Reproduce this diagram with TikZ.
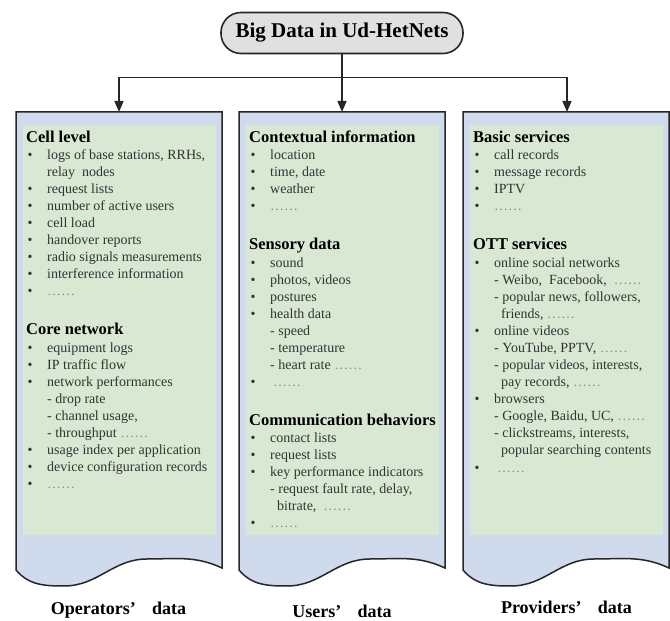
\documentclass[tikz,border=0pt]{standalone}
\usepackage{fontspec}
\setmainfont{Liberation Serif}
\usetikzlibrary{arrows.meta}
\definecolor{boxblue}{RGB}{207,218,237}
\definecolor{boxgreen}{RGB}{216,232,210}
\newcommand{\bi}{\hspace*{1.5pt}\makebox[19.5pt][l]{\textbullet}}
\newcommand{\si}{\hspace*{21pt}}
\newcommand{\dd}{\textcolor{black!45}{……}}
\newcommand{\hd}[1]{\leavevmode{\color{black}\fontsize{16.5}{17}\selectfont\bfseries #1}}

\begin{document}
\begin{tikzpicture}[x=1pt,y=1pt]
	\tikzset{title/.style={draw=black!85,line width=1.6pt,fill=black!12,rounded corners=20pt,minimum width=242pt,minimum height=41pt,inner sep=0pt,font=\fontsize{21}{24}\selectfont\bfseries}}
	\tikzset{column/.style={anchor=base west,inner sep=0pt,text=black!80,font=\fontsize{14}{17}\selectfont}}
	\tikzset{caption/.style={anchor=base,inner sep=0pt,font=\fontsize{18}{20}\selectfont\bfseries}}
	\tikzset{arr/.style={line width=1.5pt,draw=black!85,-{Triangle[length=11pt,width=9pt]}}}
	\useasboundingbox (0,0) rectangle (670,621);
	\foreach \l in {16,239,463}{
		\draw[line width=1.5pt,draw=black!85,fill=boxblue] (\l,509) -- (\l,51) to[out=-50,in=180] (\l+48,35) to[out=0,in=180] (\l+131,62) to[out=0,in=155] (\l+206,53) -- (\l+206,509) -- cycle;
		\fill[boxgreen] (\l+7,86) rectangle (\l+200,496);
	}
	\node[title] (title) at (342,588) {Big Data in Ud-HetNets};
	\coordinate (split) at (342,543.5);
	\coordinate (optop) at (119,509);
	\coordinate (ustop) at (342,509);
	\coordinate (prtop) at (567,509);
	\draw[arr] (title.south) -- (ustop);
	\draw[arr] (split) -| (optop);
	\draw[arr] (split) -| (prtop);
	\node[column] (opcol) at (26,478.5) {\parbox[t]{200pt}{%
		\hd{Cell level}\\[0.5pt]
		\bi logs of base stations, RRHs,\\
		\si relay\ \ nodes\\
		\bi request lists\\
		\bi number of active users\\
		\bi cell load\\
		\bi handover reports\\
		\bi radio signals measurements\\
		\bi interference information\\
		\bi \dd\\[21.8pt]
		\hd{Core network}\\[0.5pt]
		\bi equipment logs\\
		\bi IP traffic flow\\
		\bi network performances\\
		\si - drop rate\\
		\si - channel usage,\\
		\si - throughput \dd\\
		\bi usage index per application\\
		\bi device configuration records\\
		\bi \dd}};
	\node[column] (uscol) at (249,478.5) {\parbox[t]{200pt}{%
		\hd{Contextual information}\\[0.5pt]
		\bi location\\
		\bi time, date\\
		\bi weather\\
		\bi \dd\\[21.8pt]
		\hd{Sensory data}\\[0.5pt]
		\bi sound\\
		\bi photos, videos\\
		\bi postures\\
		\bi health data\\
		\si - speed\\
		\si - temperature\\
		\si - heart rate \dd\\
		\bi \hspace*{3pt}\dd\\[21.8pt]
		\hd{Communication behaviors}\\[0.5pt]
		\bi contact lists\\
		\bi request lists\\
		\bi key performance indicators\\
		\si - request fault rate, delay,\\
		\si\hspace*{7pt}bitrate,\ \ \dd\\
		\bi \dd}};
	\node[column] (prcol) at (473,478.5) {\parbox[t]{200pt}{%
		\hd{Basic services}\\[0.5pt]
		\bi call records\\
		\bi message records\\
		\bi IPTV\\
		\bi \dd\\[21.8pt]
		\hd{OTT services}\\[0.5pt]
		\bi online social networks\\
		\si - Weibo,\ \ Facebook,\ \ \dd\\
		\si - popular news, followers,\\
		\si\hspace*{7pt}friends,\ \dd\\
		\bi online videos\\
		\si - YouTube, PPTV,\ \dd\\
		\si - popular videos, interests,\\
		\si\hspace*{7pt}pay records,\ \dd\\
		\bi browsers\\
		\si - Google, Baidu, UC,\ \dd\\
		\si - clickstreams, interests,\\
		\si\hspace*{7pt}popular searching contents\\[1.5pt]
		\bi \hspace*{3pt}\dd}};
	\node[caption] (oplbl) at (118.5,6) {Operators’\hspace{0.9em}data};
	\node[caption] (uslbl) at (342,3.5) {Users’\hspace{0.9em}data};
	\node[caption] (prlbl) at (566.5,7) {Providers’\hspace{0.9em}data};
\end{tikzpicture}
\end{document}
